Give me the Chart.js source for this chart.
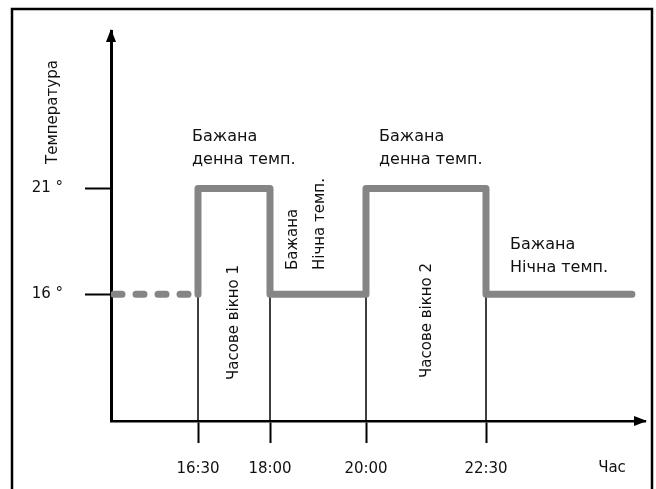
<!DOCTYPE html>
<html>
<head>
<meta charset="utf-8">
<script src="https://cdn.jsdelivr.net/npm/chart.js@4"></script>
<style>
  html, body { margin: 0; padding: 0; background: #fff; }
  #wrap { width: 656px; height: 489px; }
</style>
</head>
<body>
<div id="wrap"><canvas id="tempChart" width="656" height="489"></canvas></div>
<script>
// Setpoint schedule: step changes of the desired temperature
const stepTimes = [14.75, 16.5, 16.5, 18, 20, 22.5, 25.54];
const stepTemps = [16, 16, 21, 16, 21, 16, 16];

// Time window markers
const markerTimes = [16.5, 18, 20, 22.5];

// Axis ticks
const xTickValues = [16.5, 18, 20, 22.5];
const xTickLabels = ["16:30", "18:00", "20:00", "22:30"];
const yTickValues = [16, 21];
const yTickLabels = ["16 °", "21 °"];

const FONT = "'DejaVu Sans', sans-serif";
const INK = "#111";

const markerSets = markerTimes.map((t) => ({
  data: [
    { x: t, y: 16 },
    { x: t, y: 0 },
  ],
  borderColor: "#000",
  borderWidth: 1.5,
  pointRadius: 0,
  fill: false,
}));

// Frame, arrows and free text
const decorPlugin = {
  id: "decor",
  beforeDraw(chart) {
    const ctx = chart.ctx;
    ctx.save();
    ctx.fillStyle = "#fff";
    ctx.fillRect(0, 0, chart.width, chart.height);
    ctx.restore();
  },
  afterDraw(chart) {
    const ctx = chart.ctx;
    const { left, right, top, bottom } = chart.chartArea;
    ctx.save();
    // outer frame
    ctx.strokeStyle = "#000";
    ctx.lineWidth = 2.5;
    ctx.strokeRect(12, 9, 640, 500);

    // arrow heads
    ctx.fillStyle = "#000";
    ctx.beginPath();
    ctx.moveTo(left, top - 2);
    ctx.lineTo(left - 5, top + 11);
    ctx.lineTo(left + 5, top + 11);
    ctx.closePath();
    ctx.fill();
    ctx.beginPath();
    ctx.moveTo(right + 2, bottom);
    ctx.lineTo(right - 11, bottom - 5);
    ctx.lineTo(right - 11, bottom + 5);
    ctx.closePath();
    ctx.fill();

    ctx.fillStyle = INK;
    ctx.font = "16px " + FONT;
    ctx.textBaseline = "middle";
    ctx.textAlign = "left";

    const flat = [
      ["Бажана", 192, 137],
      ["денна темп.", 192, 160],
      ["Бажана", 379, 137],
      ["денна темп.", 379, 160],
      ["Бажана", 510, 245],
      ["Нічна темп.", 510, 268],
    ];
    flat.forEach(([t, x, y]) => ctx.fillText(t, x, y));

    ctx.font = "15px " + FONT;
    ctx.textAlign = "center";
    ctx.fillText("Час", 612, 468);

    // rotated text
    const rotated = [
      ["Бажана", 293, 270, "left"],
      ["Нічна темп.", 320, 270, "left"],
      ["Часове вікно 1", 234, 380, "left"],
      ["Часове вікно 2", 427, 378, "left"],
      ["Температура", 53, 112, "center"],
    ];
    rotated.forEach(([t, x, y, align]) => {
      ctx.save();
      ctx.translate(x, y);
      ctx.rotate(-Math.PI / 2);
      ctx.textAlign = align;
      ctx.fillText(t, 0, 0);
      ctx.restore();
    });
    ctx.restore();
  },
};

new Chart(document.getElementById("tempChart"), {
  type: "line",
  data: {
    datasets: [
      {
        data: stepTimes.map((t, i) => ({ x: t, y: stepTemps[i] })),
        stepped: true,
        borderColor: "#858585",
        borderWidth: 7,
        borderJoinStyle: "round",
        borderCapStyle: "round",
        pointRadius: 0,
        fill: false,
        segment: {
          borderDash: (c) => (c.p0DataIndex === 0 ? [8, 14] : undefined),
        },
      },
      ...markerSets,
    ],
  },
  options: {
    responsive: false,
    animation: false,
    layout: { padding: { left: 0, right: 11, top: 27, bottom: 0 } },
    plugins: {
      legend: { display: false },
      tooltip: { enabled: false },
    },
    scales: {
      x: {
        type: "linear",
        min: 14.6875,
        max: 25.8125,
        afterFit(scale) {
          scale.height = 68;
        },
        afterBuildTicks(scale) {
          scale.ticks = xTickValues.map((v) => ({ value: v }));
        },
        ticks: {
          autoSkip: false,
          maxRotation: 0,
          padding: 17,
          color: INK,
          font: { family: FONT, size: 15 },
          callback: (v) => xTickLabels[xTickValues.indexOf(v)],
        },
        grid: {
          drawOnChartArea: false,
          tickLength: 22,
          tickWidth: 2,
          tickColor: "#000",
        },
        border: { display: true, color: "#000", width: 2.5 },
      },
      y: {
        type: "linear",
        min: 10.019,
        max: 28.43,
        afterFit(scale) {
          scale.width = 111;
        },
        afterBuildTicks(scale) {
          scale.ticks = yTickValues.map((v) => ({ value: v }));
        },
        ticks: {
          autoSkip: false,
          padding: 22,
          color: INK,
          font: { family: FONT, size: 15 },
          callback: (v) => yTickLabels[yTickValues.indexOf(v)],
        },
        grid: {
          drawOnChartArea: false,
          tickLength: 26,
          tickWidth: 2,
          tickColor: "#000",
        },
        border: { display: true, color: "#000", width: 3 },
      },
    },
  },
  plugins: [decorPlugin],
});
</script>
</body>
</html>
